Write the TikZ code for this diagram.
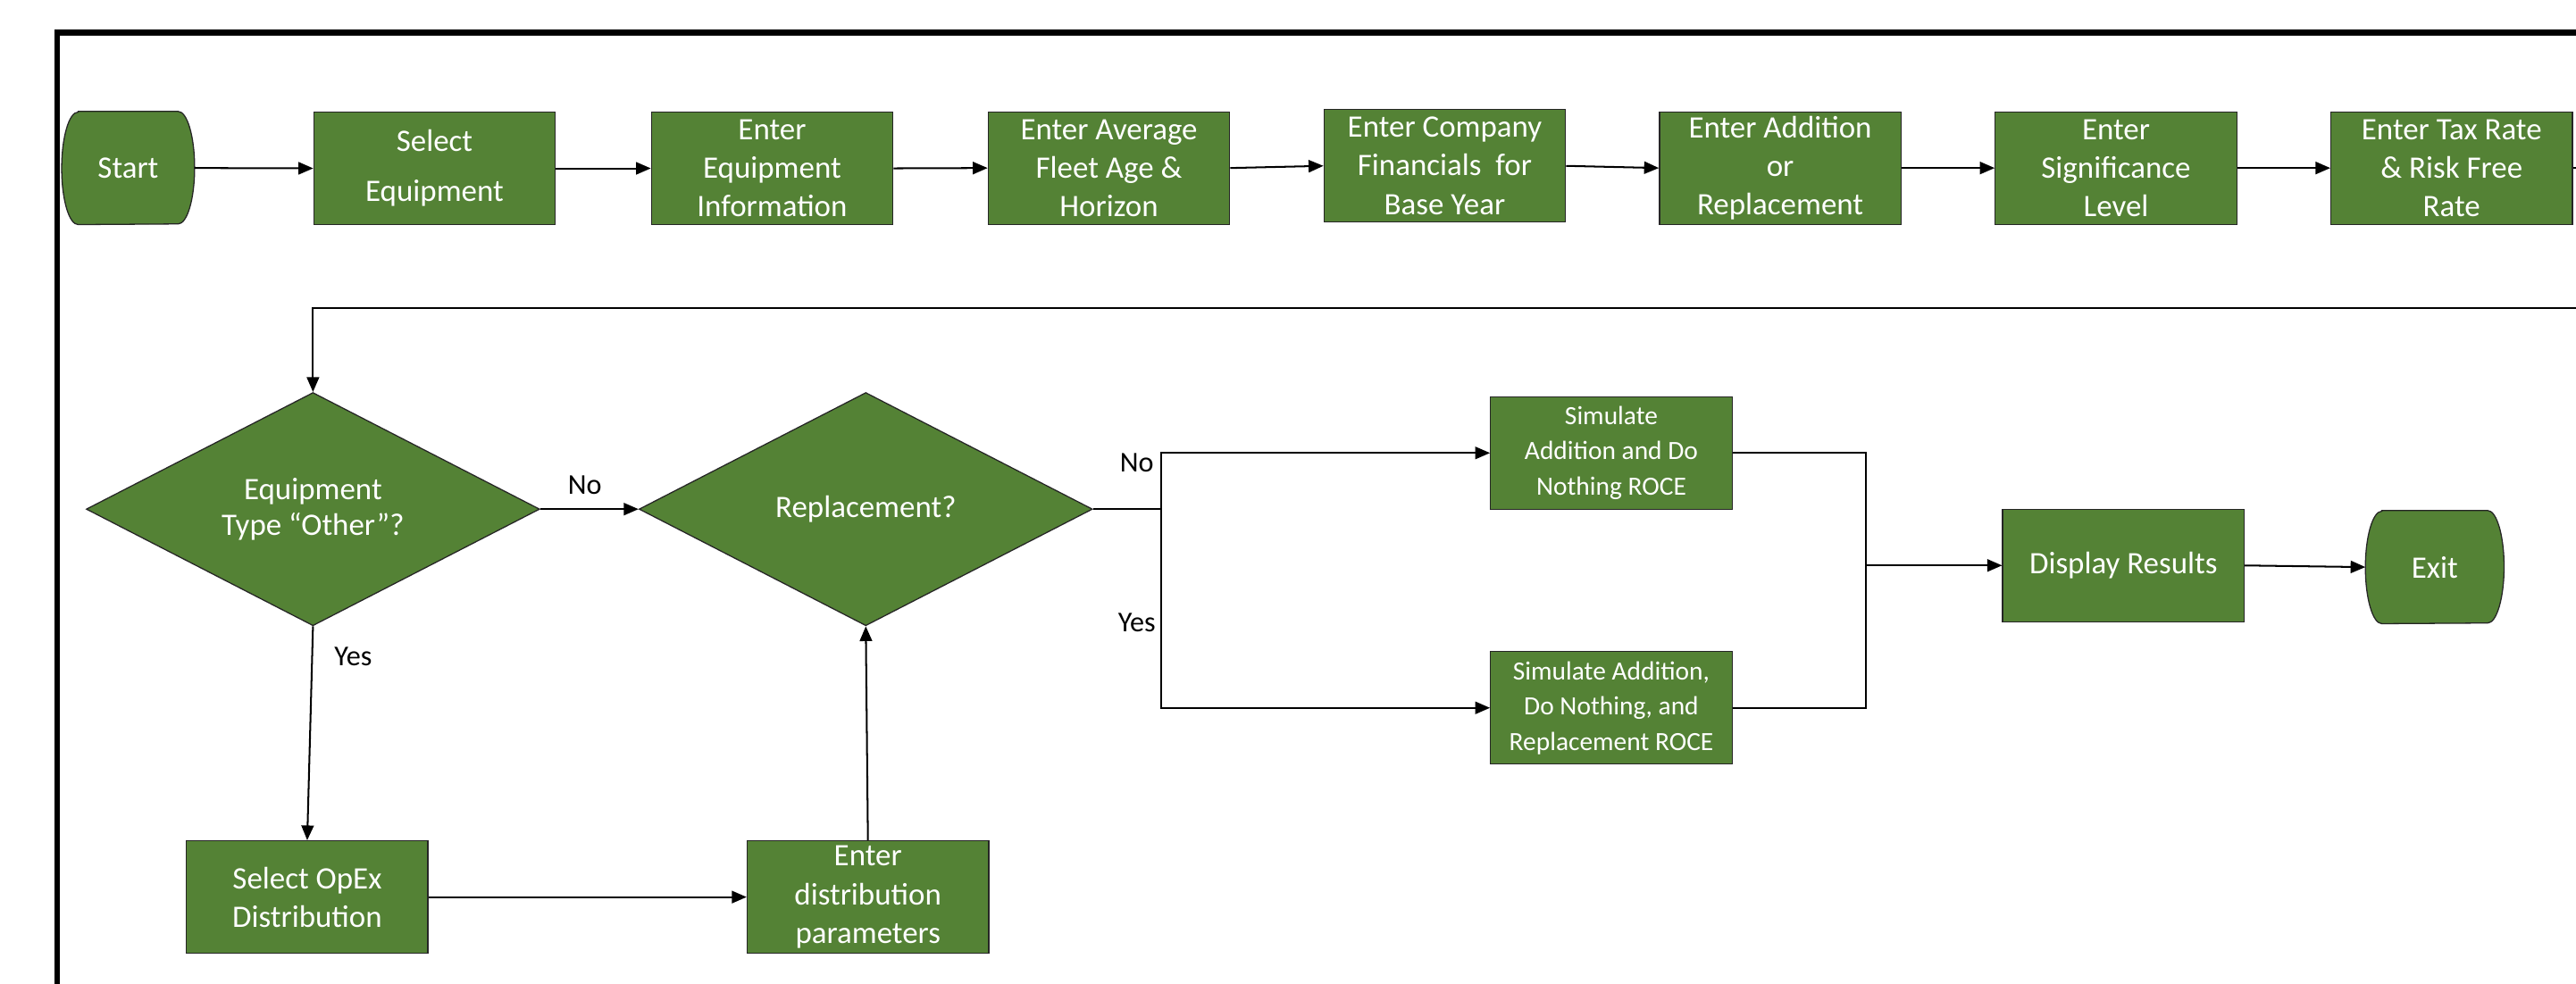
\documentclass[tikz,border=0pt]{standalone}
\usepackage{fontspec}
\setmainfont{Carlito}
\usetikzlibrary{shapes.geometric,arrows.meta,backgrounds}
\definecolor{gfill}{HTML}{548235}
\begin{document}
\begin{tikzpicture}[x=1pt,y=-1pt,
 box/.style={draw=black!85,line width=0.7pt,fill=gfill,text=white,minimum width=147pt,minimum height=68.5pt,inner sep=0pt,align=center,font=\fontsize{19}{23.5}\selectfont},
 small/.style={box,font=\fontsize{16}{21.5}\selectfont},
 dec/.style={box,shape=diamond,aspect=1.94,minimum width=276pt,minimum height=142pt,font=\fontsize{19}{22}\selectfont},
 term/.style={inner sep=0pt,minimum height=68.5pt,align=center,text=white,font=\fontsize{19}{23.5}\selectfont},
 termfill/.style={draw=black!85,line width=0.7pt,fill=gfill},
 conn/.style={line width=1.1pt,draw=black},
 arr/.style={conn,-{Triangle[length=9pt,width=7.5pt]}},
 lbl/.style={font=\fontsize{17.5}{20}\selectfont,text=black,inner sep=0pt}]
\useasboundingbox (0,0) rectangle (1568,599);
\draw[line width=3.6pt] (34.7,620) -- (34.7,19.9) -- (1590,19.9);
% top row
\node[term,minimum width=80.5pt] (start) at (78,102.3) {Start};
\node[box] (sel) at (264.5,102.5) {Select\\[7pt]Equipment};
\node[box] (info) at (470,102.5) {Enter\\Equipment\\Information};
\node[box] (fleet) at (675,102.3) {Enter Average\\Fleet Age \&\\Horizon};
\node[box] (fin) at (879.4,101) {Enter Company\\Financials\ \ for\\Base Year};
\node[box] (add) at (1083.6,102.3) {Enter Addition\\or\\Replacement};
\node[box] (sig) at (1288,102.3) {Enter\\Significance\\Level};
\node[box] (tax) at (1492.3,102.3) {Enter Tax Rate\\\& Risk Free\\Rate};
\coordinate (r1) at (1580,102.3);
\coordinate (r2) at (1580,187.6);
% lower part
\node[dec] (d1) at (190.5,310) {Equipment\\Type “Other”?};
\node[dec] (d2) at (527,310) {Replacement?};
\node[box] (opex) at (187,546.2) {Select OpEx\\Distribution};
\node[box] (par) at (528.3,546.2) {Enter\\distribution\\parameters};
\node[small] (sim1) at (980.8,275.8) {Simulate\\Addition and Do\\Nothing ROCE};
\node[small] (sim2) at (980.8,431) {Simulate Addition,\\Do Nothing, and\\Replacement ROCE};
\node[box] (disp) at (1292.5,344.3) {Display Results};
\node[term,minimum width=84pt] (ex) at (1482,345.3) {Exit};
\begin{scope}[on background layer]
\foreach \n in {start,ex}
  \path[termfill] ([xshift=10pt]\n.north west) -- ([xshift=-10pt]\n.north east)
    arc[start angle=90,end angle=-90,x radius=10pt,y radius=34.25pt]
    -- ([xshift=10pt]\n.south west)
    arc[start angle=270,end angle=90,x radius=10pt,y radius=34.25pt] -- cycle;
\end{scope}
% labels
\node[lbl] (no1) at (356,295.5) {No};
\node[lbl] (yes1) at (215,399.5) {Yes};
\node[lbl] (no2) at (692,282) {No};
\node[lbl] (yes2) at (692,379) {Yes};
% connectors
\draw[arr] (start.east) -- (sel.west);
\draw[arr] (sel.east) -- (info.west);
\draw[arr] (info.east) -- (fleet.west);
\draw[arr] (fleet.east) -- (fin.west);
\draw[arr] (fin.east) -- (add.west);
\draw[arr] (add.east) -- (sig.west);
\draw[arr] (sig.east) -- (tax.west);
\draw[conn] (tax.east) -- (r1);
\draw[arr] (r2) -| (d1.north);
\draw[arr] (d1.east) -- (d2.west);
\draw[arr] (d1.south) -- (opex.north);
\draw[arr] (opex.east) -- (par.west);
\draw[arr] (par.north) -- (d2.south);
\coordinate (br) at (707,310);
\draw[conn] (d2.east) -- (br);
\draw[arr] (br) |- (sim1.west);
\draw[arr] (br) |- (sim2.west);
\coordinate (mg) at (1136,344.3);
\draw[conn] (sim1.east) -| (mg) |- (sim2.east);
\draw[arr] (mg) -- (disp.west);
\draw[arr] (disp.east) -- (ex.west);
\end{tikzpicture}
\end{document}
